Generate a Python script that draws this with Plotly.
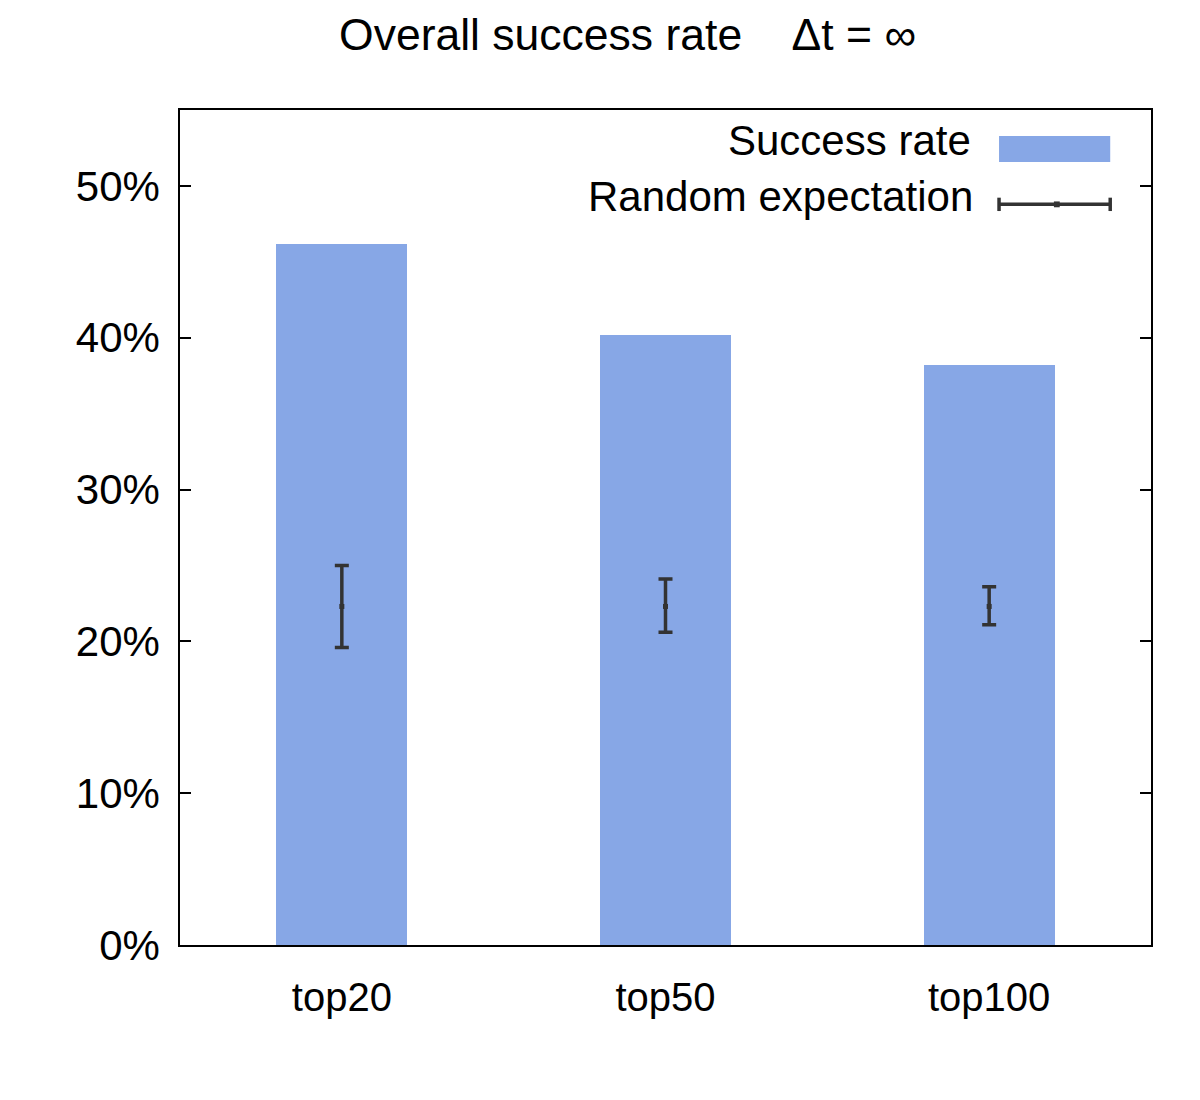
import plotly.graph_objects as go

categories = ["top20", "top50", "top100"]
success_rate = [46.2, 40.2, 38.2]
random_mean = [22.3, 22.3, 22.3]
random_upper = [25.0, 24.1, 23.6]
random_lower = [19.6, 20.6, 21.1]
y_ticks = [0, 10, 20, 30, 40, 50]
y_tick_labels = ["0%", "10%", "20%", "30%", "40%", "50%"]

BAR = "rgb(135,167,230)"
ERR = "rgb(51,51,51)"
FONT = "Liberation Sans, Arial, sans-serif"

x_idx = list(range(len(categories)))

fig = go.Figure()
fig.add_trace(go.Bar(
    x=x_idx, y=success_rate, width=0.405, marker=dict(color=BAR, line=dict(width=0)),
    name="Success rate", showlegend=False,
))
fig.add_trace(go.Scatter(
    x=x_idx, y=random_mean, mode="markers",
    marker=dict(symbol="square", size=5, color=ERR),
    error_y=dict(type="data", symmetric=False,
                 array=[u - m for u, m in zip(random_upper, random_mean)],
                 arrayminus=[m - l for m, l in zip(random_mean, random_lower)],
                 color=ERR, thickness=3.5, width=7),
    name="Random expectation", showlegend=False,
))

# manual legend (gnuplot style: text left of sample)
fig.add_annotation(xref="paper", yref="paper", x=0.817, y=0.963, text="Success rate",
                   showarrow=False, xanchor="right", yanchor="middle",
                   font=dict(family=FONT, size=42, color="black"))
fig.add_annotation(xref="paper", yref="paper", x=0.819, y=0.897, text="Random expectation",
                   showarrow=False, xanchor="right", yanchor="middle",
                   font=dict(family=FONT, size=42, color="black"))
fig.add_shape(type="rect", xref="paper", yref="paper", x0=0.8435, x1=0.958, y0=0.9377, y1=0.969,
              fillcolor=BAR, line=dict(width=0))
fig.add_shape(type="line", xref="paper", yref="paper", x0=0.8435, x1=0.958, y0=0.887, y1=0.887,
              line=dict(color=ERR, width=3.5))
for xx in (0.8435, 0.958):
    fig.add_shape(type="line", xref="paper", yref="paper", x0=xx, x1=xx, y0=0.879, y1=0.895,
                  line=dict(color=ERR, width=3.5))
fig.add_shape(type="rect", xref="paper", yref="paper", x0=0.9, x1=0.906, y0=0.8835, y1=0.8905,
              fillcolor=ERR, line=dict(width=0))

fig.update_layout(
    width=1200, height=1100,
    margin=dict(l=180, r=49, t=110, b=155),
    paper_bgcolor="white", plot_bgcolor="white",
    font=dict(family=FONT, size=40, color="black"),
    title=dict(text="Overall success rate\u00a0\u00a0\u00a0\u00a0Δt = ∞", x=0.523, xanchor="center",
               y=0.969, yanchor="middle", font=dict(family=FONT, size=44.5, color="black")),
    bargap=0,
)
fig.update_xaxes(
    range=[-0.5, 2.5], tickmode="array", tickvals=x_idx, ticktext=categories,
    showline=True, linecolor="black", linewidth=1.5, mirror=True,
    ticks="", showgrid=False, zeroline=False, ticklabelstandoff=16,
    tickfont=dict(family=FONT, size=40, color="black"),
)
fig.update_yaxes(
    range=[0, 55], tickmode="array", tickvals=y_ticks, ticktext=y_tick_labels,
    showline=True, linecolor="black", linewidth=1.5, mirror="ticks",
    ticks="inside", ticklen=11, tickwidth=1.5, tickcolor="black",
    showgrid=False, zeroline=False, ticklabelstandoff=10,
    tickfont=dict(family=FONT, size=42, color="black"),
)

fig.write_html("out.html")
